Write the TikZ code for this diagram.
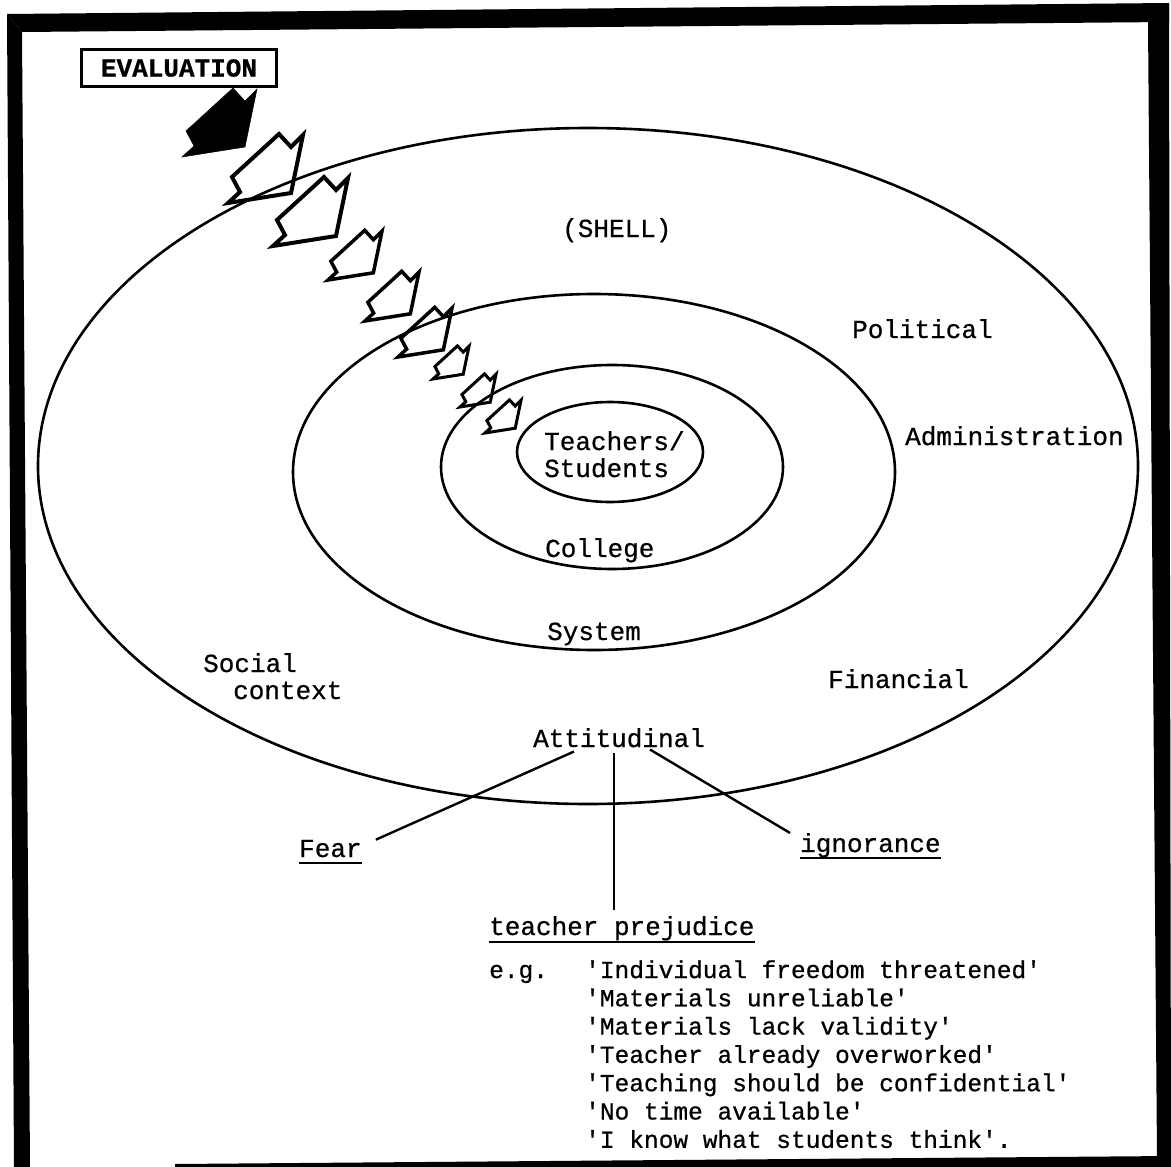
\documentclass[tikz,border=0pt]{standalone}
\usepackage{fontspec}
\setmonofont{Liberation Mono}[FakeBold=0.7]
\usetikzlibrary{shapes.geometric}

\tikzset{
  lbl/.style={font=\ttfamily\fontsize{26}{30}\selectfont, inner sep=0pt, anchor=base west},
  quote/.style={font=\ttfamily\fontsize{24.5}{28}\selectfont, inner sep=0pt, anchor=base west},
  ring/.style={line width=2.6pt},
  link/.style={line width=2.4pt},
  uline/.style={line width=2.4pt},
  evalbox/.style={draw, line width=3pt, inner sep=0pt, minimum width=195pt, minimum height=37pt,
    font=\ttfamily\bfseries\fontsize{26}{30}\selectfont},
  evalarrow/.pic={\path[pic actions] (51,-69) -- (63,-56) -- (75,-68) -- (63,-10) -- (0,0)
      -- (12,-11) -- (4,-26) -- cycle;},
}

\begin{document}
\begin{tikzpicture}[x=1pt, y=-1pt, line join=miter]
\useasboundingbox (0,0) rectangle (1171,1167);

% heavy frame
\fill (7,14) -- (1169,3) -- (1169,22) -- (22,32) -- cycle;
\fill (7,14) -- (22,32) -- (30,1167) -- (14,1167) -- cycle;
\fill (1148,22) -- (1169,3) -- (1171,1158) -- (1157,1158) -- cycle;
\fill (175,1164) -- (1171,1156) -- (1171,1167) -- (175,1167) -- cycle;

% nested rings
\draw[ring] (588,466) ellipse [x radius=550pt, y radius=338pt];
\draw[ring] (594,472) ellipse [x radius=301pt, y radius=178pt];
\draw[ring] (612,467) ellipse [x radius=171pt, y radius=102pt];
\node[draw, ellipse, ring, inner sep=0pt, minimum width=186pt, minimum height=100pt] (core) at (610,452) {};

% evaluation box and the chain of arrows pushing inwards
\node[evalbox] (eval) at (179,68) {EVALUATION};
\pic[fill=black, line width=0.5pt, draw] at (182,157) {evalarrow};
\pic[draw, line width=4pt] at (228,203) {evalarrow};
\pic[draw, line width=4pt] at (273,246) {evalarrow};
\pic[draw, line width=3.5pt, scale=0.72] at (328,280) {evalarrow};
\pic[draw, line width=3.5pt, scale=0.72] at (365,321) {evalarrow};
\pic[draw, line width=3.5pt, scale=0.72] at (398,357) {evalarrow};
\pic[draw, line width=3pt, scale=0.48] at (433,379) {evalarrow};
\pic[draw, line width=3pt, scale=0.48] at (460,407) {evalarrow};
\pic[draw, line width=3pt, scale=0.48] at (485,433) {evalarrow};

% ring labels
\node[lbl] (shell) at (562,237) {(SHELL)};
\node[lbl] (pol) at (852,338) {Political};
\node[lbl] (adm) at (905,445) {Administration};
\node[lbl] (teach) at (544,450) {Teachers/};
\node[lbl] (stud) at (544,477) {Students};
\node[lbl] (coll) at (545,557) {College};
\node[lbl] (sys) at (547,640) {System};
\node[lbl] (soc) at (203,672) {Social};
\node[lbl] (ctx) at (233,699) {context};
\node[lbl] (fin) at (828,688) {Financial};
\node[lbl] (att) at (533,747) {Attitudinal};

% attitudinal factors
\node[lbl] (fear) at (299,857) {Fear};
\node[lbl] (ign) at (800,852) {ignorance};
\node[lbl] (prej) at (489,935) {teacher prejudice};
\draw[uline] ([yshift=-6pt]fear.base west) -- ([yshift=-6pt]fear.base east);
\draw[uline] ([yshift=-6pt]ign.base west) -- ([yshift=-6pt]ign.base east);
\draw[uline] ([yshift=-7pt]prej.base west) -- ([yshift=-7pt]prej.base east);

\draw[link] ([xshift=41pt, yshift=-4pt]att.south west) -- ([xshift=14pt]fear.north east);
\draw[link] ([xshift=81pt, yshift=-5pt]att.south west) -- ([xshift=125pt, yshift=6pt]prej.north west);
\draw[link] ([xshift=117pt, yshift=-2pt]att.south west) -- ([xshift=-10pt]ign.north west);

% examples of prejudice
\node[quote] (eg) at (489,978) {e.g.};
\node[quote] (q1) at (585,978) {'Individual freedom threatened'};
\node[quote] (q2) at (585,1006.3) {'Materials unreliable'};
\node[quote] (q3) at (585,1034.6) {'Materials lack validity'};
\node[quote] (q4) at (585,1062.9) {'Teacher already overworked'};
\node[quote] (q5) at (585,1091.2) {'Teaching should be confidential'};
\node[quote] (q6) at (585,1119.5) {'No time available'};
\node[quote] (q7) at (585,1147.8) {'I know what students think'.};
\end{tikzpicture}
\end{document}
